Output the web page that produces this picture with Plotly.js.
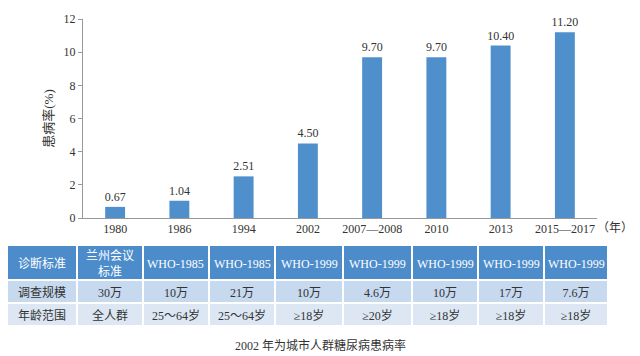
<!DOCTYPE html>
<html>
<head>
<meta charset="utf-8">
<script src="https://cdn.plot.ly/plotly-3.0.1.min.js"></script>
<style>html,body{margin:0;padding:0;background:#fff;}#chart{width:640px;height:356px;}</style>
</head>
<body>
<div id="chart"></div>
<script>
// Data
const years = ["1980", "1986", "1994", "2002", "2007—2008", "2010", "2013", "2015—2017"];
const prevalence = [0.67, 1.04, 2.51, 4.50, 9.70, 9.70, 10.40, 11.20];
const prevalenceLabels = ["0.67", "1.04", "2.51", "4.50", "9.70", "9.70", "10.40", "11.20"];
const rowHeaders = ["诊断标准", "调查规模", "年龄范围"];
const criteria = ["兰州会议<br>标准", "WHO-1985", "WHO-1985", "WHO-1999", "WHO-1999", "WHO-1999", "WHO-1999", "WHO-1999"];
const surveySize = ["30万", "10万", "21万", "10万", "4.6万", "10万", "17万", "7.6万"];
const ageRange = ["全人群", "25～64岁", "25～64岁", "≥18岁", "≥20岁", "≥18岁", "≥18岁", "≥18岁"];
const caption = "2002 年为城市人群糖尿病患病率";

const W = 640, H = 356;
const serif = "'Liberation Serif', 'Times New Roman', 'Noto Sans CJK SC', serif";
const cjk = "'Liberation Serif', 'Noto Sans CJK SC', serif";

const bar = {
  type: "bar",
  x: years,
  y: prevalence,
  text: prevalenceLabels,
  textposition: "outside",
  constraintext: "none",
  cliponaxis: false,
  textfont: {family: serif, size: 12, color: "#333"},
  marker: {color: "#4f8fcc"},
  width: 0.31,
  hoverinfo: "none",
  xaxis: "x", yaxis: "y"
};

// Header texts are overlaid as centred text so the header row keeps its height and vertical centring
const headerTexts = [rowHeaders[0]].concat(criteria);
const headerVals = headerTexts.map(() => "");
const cellCols = [[rowHeaders[1], rowHeaders[2]]];
for (let i = 0; i < criteria.length; i++) cellCols.push([surveySize[i], ageRange[i]]);

const colW = [70, 66, 66, 66, 68, 69, 66, 66, 64];
const tx0 = 7, tx1 = 608, tTop = 245, headH = 35;
const colSum = colW.reduce((a, b) => a + b, 0);

const table = {
  type: "table",
  domain: {x: [tx0 / W, tx1 / W], y: [0.0, 1 - tTop / H]},
  columnwidth: colW,
  header: {
    values: headerVals,
    height: headH,
    align: "center",
    fill: {color: "#4d8ccb"},
    line: {color: "#ffffff", width: 2},
    font: {family: cjk, size: 12, color: "#ffffff"}
  },
  cells: {
    values: cellCols,
    height: 23,
    align: "center",
    fill: {color: [["#c6d9ee", "#dce7f3"]]},
    line: {color: "#ffffff", width: 2},
    font: {family: cjk, size: 12, color: "#333333"}
  }
};

const annotations = [
  {text: "（年）", xref: "paper", yref: "paper", x: 615 / W, y: 1 - 228 / H,
   xanchor: "center", yanchor: "middle", showarrow: false,
   font: {family: cjk, size: 12, color: "#333"}},
  {text: caption, xref: "paper", yref: "paper", x: 320 / W, y: 1 - 345 / H,
   xanchor: "center", yanchor: "middle", showarrow: false,
   font: {family: cjk, size: 12, color: "#333"}}
];
let acc = 0;
headerTexts.forEach((c, i) => {
  const cx = tx0 + (acc + colW[i] / 2) / colSum * (tx1 - tx0);
  annotations.push({text: c, xref: "paper", yref: "paper", x: cx / W, y: 1 - (tTop + headH / 2 + 1) / H,
    xanchor: "center", yanchor: "middle", showarrow: false, align: "center",
    font: {family: cjk, size: 12, color: "#ffffff"}});
  acc += colW[i];
});

const layout = {
  width: W, height: H,
  margin: {l: 0, r: 0, t: 0, b: 0},
  paper_bgcolor: "#ffffff",
  plot_bgcolor: "rgba(0,0,0,0)",
  showlegend: false,
  xaxis: {
    domain: [83 / W, 597 / W],
    anchor: "y",
    type: "category",
    showline: true, linecolor: "#999", linewidth: 1,
    ticks: "", showgrid: false, zeroline: false,
    tickfont: {family: serif, size: 12, color: "#333"},
    fixedrange: true
  },
  yaxis: {
    domain: [1 - 218 / H, 1 - 19 / H],
    anchor: "x",
    range: [0, 12],
    dtick: 2,
    showline: true, linecolor: "#999", linewidth: 1,
    ticks: "outside", ticklen: 4, tickcolor: "#999",
    showgrid: false, zeroline: false,
    tickfont: {family: serif, size: 12, color: "#333"},
    title: {text: "患病率(%)", font: {family: cjk, size: 13, color: "#333"}, standoff: 7},
    fixedrange: true
  },
  annotations: annotations
};

Plotly.newPlot("chart", [bar, table], layout, {displayModeBar: false, staticPlot: true});
</script>
</body>
</html>
